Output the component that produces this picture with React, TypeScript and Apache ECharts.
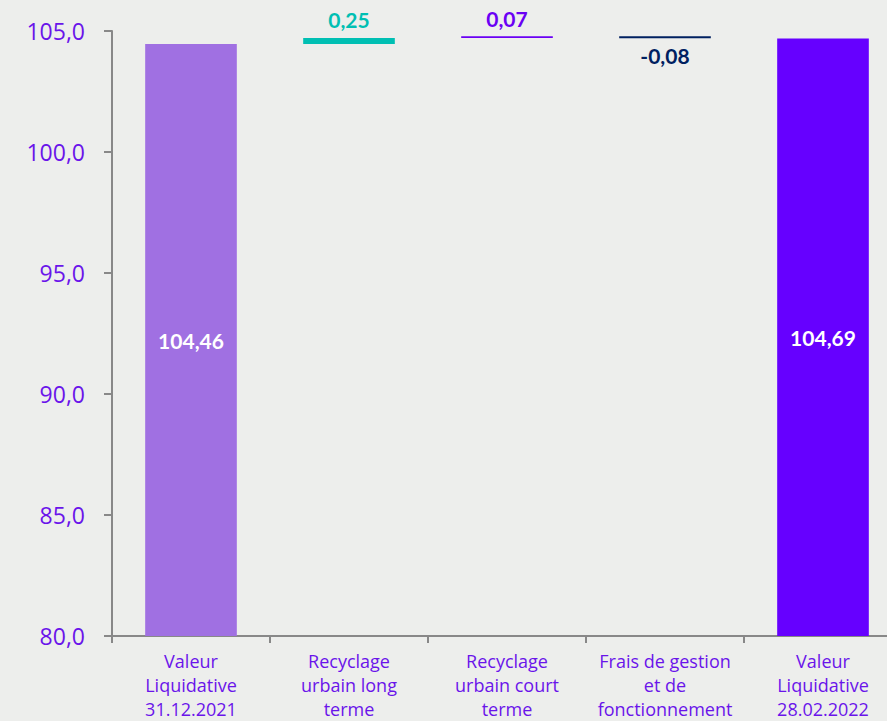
import React, { useEffect, useRef } from "react";
import * as echarts from "echarts";

const categories = [
  "Valeur\nLiquidative\n31.12.2021",
  "Recyclage\nurbain long\nterme",
  "Recyclage\nurbain court\nterme",
  "Frais de gestion\net de\nfonctionnement",
  "Valeur\nLiquidative\n28.02.2022",
];
const baseValues: (number | string)[] = ["-", 104.46, 104.71, 104.70, "-"];
const deltaValues = [104.46, 0.25, 0.07, 0.08, 104.69];
const labelTexts = ["104,46", "0,25", "0,07", "-0,08", "104,69"];
const barColors = ["#a070e2", "#00bfb3", "#6a00f4", "#002060", "#6600ff"];
const labelColors = ["#ffffff", "#00bfb3", "#6a00f4", "#002060", "#ffffff"];
const labelPositions = ["inside", "top", "top", "bottom", "inside"];
const labelDistances = [5, 8, 7, 7, 5];
const yMin = 80;
const yMax = 105;
const yInterval = 5;

export default function App() {
  const ref = useRef<HTMLDivElement>(null);
  useEffect(() => {
    document.body.style.margin = "0";
    const chart = echarts.init(ref.current!, null, { renderer: "svg" });
    const axisColor = "#6a14ea";
    chart.setOption({
      animation: false,
      backgroundColor: "#edeeec",
      grid: { left: 112, right: -15, top: 31, bottom: 85, containLabel: false, outerBoundsMode: "none" },
      xAxis: {
        type: "category",
        data: categories,
        axisLine: { lineStyle: { color: "#888888", width: 2 } },
        axisTick: { show: true, length: 7, lineStyle: { color: "#888888", width: 2 } },
        axisLabel: {
          color: axisColor,
          fontFamily: "Open Sans",
          fontSize: 18,
          lineHeight: 24,
          margin: 13,
          interval: 0,
        },
      },
      yAxis: {
        type: "value",
        min: yMin,
        max: yMax,
        interval: yInterval,
        axisLine: { show: true, lineStyle: { color: "#888888", width: 2 } },
        axisTick: { show: true, length: 8, lineStyle: { color: "#888888", width: 2 } },
        splitLine: { show: false },
        axisLabel: {
          color: axisColor,
          fontFamily: "Open Sans",
          fontSize: 23,
          margin: 27,
          formatter: (v: number) => v.toFixed(1).replace(".", ","),
        },
      },
      series: [
        {
          type: "bar",
          stack: "w",
          data: baseValues,
          itemStyle: { color: "transparent" },
          emphasis: { disabled: true },
          silent: true,
        },
        {
          type: "bar",
          stack: "w",
          barWidth: "58%",
          data: deltaValues.map((v, i) => ({
            value: v,
            itemStyle: { color: barColors[i] },
            label: {
              show: true,
              position: labelPositions[i],
              color: labelColors[i],
              formatter: labelTexts[i],
              fontFamily: "Lato",
              fontWeight: "bold",
              fontSize: 21,
              distance: labelDistances[i],
            },
          })),
        },
      ],
    });
    return () => chart.dispose();
  }, []);
  return <div ref={ref} style={{ width: 887, height: 721 }} />;
}
